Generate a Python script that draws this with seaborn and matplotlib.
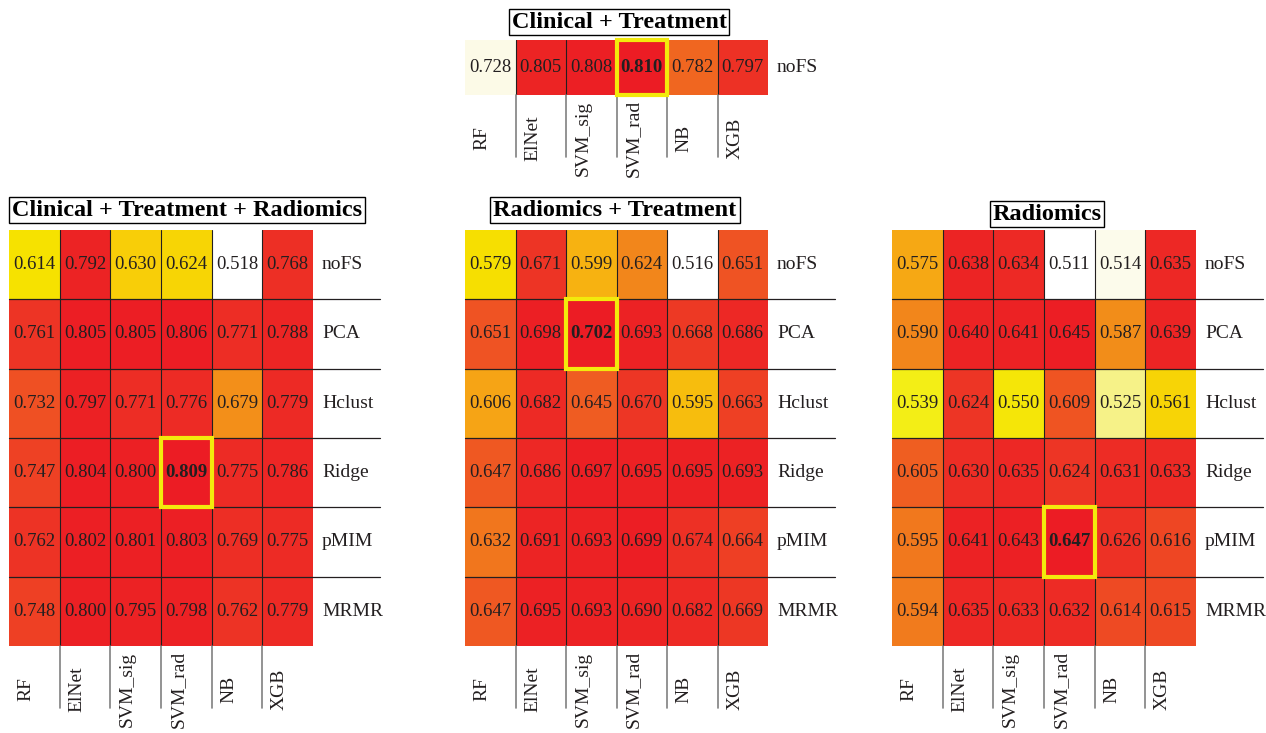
import pandas as pd
import seaborn as sns
import matplotlib.pyplot as plt
from matplotlib.colors import LinearSegmentedColormap
from matplotlib.patches import Rectangle

# modelos e metodos de selecao de atributos
models = ['RF', 'ElNet', 'SVM_sig', 'SVM_rad', 'NB', 'XGB']
fs_methods = ['noFS', 'PCA', 'Hclust', 'Ridge', 'pMIM', 'MRMR']

clin_treat = [[0.728, 0.805, 0.808, 0.810, 0.782, 0.797]]

clin_treat_rad = [[0.614, 0.792, 0.630, 0.624, 0.518, 0.768],
                  [0.761, 0.805, 0.805, 0.806, 0.771, 0.788],
                  [0.732, 0.797, 0.771, 0.776, 0.679, 0.779],
                  [0.747, 0.804, 0.800, 0.809, 0.775, 0.786],
                  [0.762, 0.802, 0.801, 0.803, 0.769, 0.775],
                  [0.748, 0.800, 0.795, 0.798, 0.762, 0.779]]

rad_treat = [[0.579, 0.671, 0.599, 0.624, 0.516, 0.651],
             [0.651, 0.698, 0.702, 0.693, 0.668, 0.686],
             [0.606, 0.682, 0.645, 0.670, 0.595, 0.663],
             [0.647, 0.686, 0.697, 0.695, 0.695, 0.693],
             [0.632, 0.691, 0.693, 0.699, 0.674, 0.664],
             [0.647, 0.695, 0.693, 0.690, 0.682, 0.669]]

rad = [[0.575, 0.638, 0.634, 0.511, 0.514, 0.635],
       [0.590, 0.640, 0.641, 0.645, 0.587, 0.639],
       [0.539, 0.624, 0.550, 0.609, 0.525, 0.561],
       [0.605, 0.630, 0.635, 0.624, 0.631, 0.633],
       [0.595, 0.641, 0.643, 0.647, 0.626, 0.616],
       [0.594, 0.635, 0.633, 0.632, 0.614, 0.615]]

sns.set_style('white')
plt.rcParams['font.family'] = ['Liberation Serif', 'DejaVu Serif']

heat = LinearSegmentedColormap.from_list('heat', [
    (0.00, '#ffffff'), (0.03, '#fbf9e0'), (0.10, '#f6f28a'), (0.20, '#f3ee17'),
    (0.33, '#f6e200'), (0.40, '#f8c80a'), (0.47, '#f6a814'), (0.57, '#f28a1a'),
    (0.70, '#ef5a22'), (0.85, '#ed3025'), (1.00, '#ec1c24')])

W, H = 1266, 733
fig = plt.figure(figsize=(W / 100, H / 100), dpi=100)
ink = '#231f20'


def painel(px, values, rows, title, title_xy, best, vmin, vmax):
    x0, y0, x1, y1 = px
    ax = fig.add_axes([x0 / W, 1 - y1 / H, (x1 - x0) / W, (y1 - y0) / H])
    df = pd.DataFrame(values, index=rows, columns=models)
    sns.heatmap(df, ax=ax, cmap=heat, vmin=vmin, vmax=vmax, annot=True, fmt='.3f',
                cbar=False, xticklabels=False, yticklabels=False,
                annot_kws={'size': 13.5, 'color': ink})
    n_r, n_c = df.shape
    # melhor resultado em negrito
    ax.texts[best[0] * n_c + best[1]].set_fontweight('bold')
    col_w = (x1 - x0) / n_c
    row_h = (y1 - y0) / n_r
    ext_c = 67 / col_w
    ext_r = 62 / row_h
    for j in range(1, n_c):
        ax.plot([j, j], [0, n_r], color=ink, lw=0.8)
        ax.plot([j, j], [n_r, n_r + ext_r], color='#808080', lw=1.2, clip_on=False)
    for i in range(1, n_r):
        ax.plot([0, n_c + ext_c], [i, i], color=ink, lw=0.9, clip_on=False)
    for i, r in enumerate(rows):
        ax.text(n_c + 9 / col_w, i + 0.5, r, ha='left', va='center', size=14, color=ink)
    for j, m in enumerate(models):
        ax.text(j + 0.34, n_r + 43 / row_h, m, rotation=90, ha='center', va='center',
                size=14, color=ink)
    ax.add_patch(Rectangle((best[1], best[0]), 1, 1, fill=False, edgecolor='#f3ea0c',
                           lw=3, clip_on=False, zorder=5))
    fig.text(title_xy[0] / W, 1 - title_xy[1] / H, title, ha='center', va='center',
             fontsize=17.5, fontweight='bold', color='black',
             bbox=dict(boxstyle='square,pad=0.12', fc='white', ec='black', lw=1))


painel((465, 40, 768, 95), clin_treat, ['noFS'], 'Clinical + Treatment', (619, 22),
       (0, 3), 0.726, 0.810)
painel((9, 230, 313, 646), clin_treat_rad, fs_methods, 'Clinical + Treatment + Radiomics',
       (187, 210), (3, 3), 0.518, 0.809)
painel((465, 230, 768, 646), rad_treat, fs_methods, 'Radiomics + Treatment',
       (615, 210), (1, 2), 0.516, 0.702)
painel((892, 230, 1196, 646), rad, fs_methods, 'Radiomics',
       (1047, 214), (4, 3), 0.511, 0.647)

plt.savefig('out.png', dpi=100)
